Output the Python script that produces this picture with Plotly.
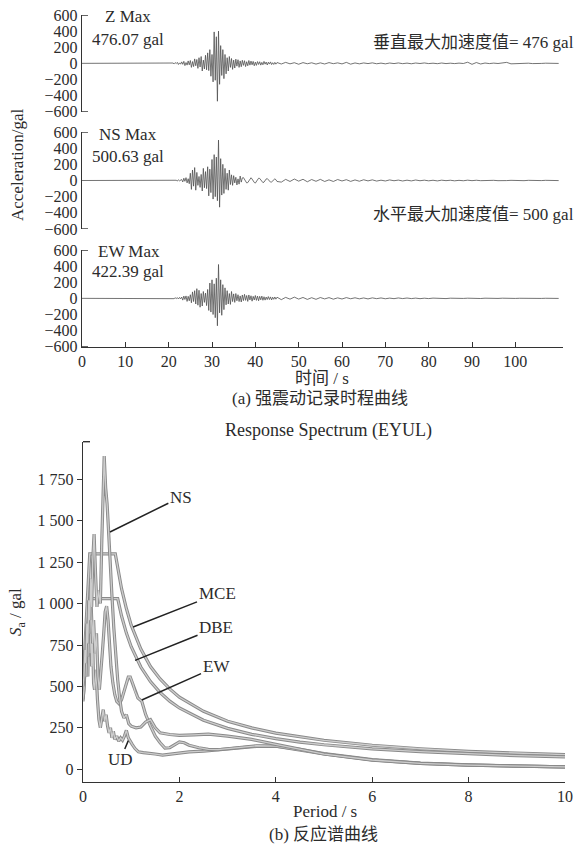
import numpy as np
import plotly.graph_objects as go

W, H = 579, 847

# ---------------- data: acceleration time histories (gal) ----------------
# dense part sampled every 0.25 s from 21 s to 44.75 s, tail every 1 s from 45 s to 110 s
dense_start, dense_step = 21.0, 0.25
tail_start, tail_step = 45.0, 1.0

z_dense = [4, -6, 9, -3, 12, -14, 6, -10,
           18, -12, 25, -28, 10, -22, 30, -18,
           35, -50, 22, -40, 55, -30, 48, -62,
           70, -45, 85, -95, 40, -70, 100, -80,
           130, -90, 170, -160, 110, -230, 390, -210,
           330, -470, 400, -260, 220, -150, 170, -190,
           110, -130, 70, -95, 85, -50, 60, -75,
           40, -58, 52, -35, 45, -50, 30, -42,
           38, -25, 33, -40, 20, -30, 35, -22,
           28, -18, 24, -30, 15, -25, 22, -14,
           20, -22, 12, -18, 24, -10, 16, -20,
           14, -9, 18, -15, 8, -14, 12, -10]
z_tail = [10, -8, 12, -6, 8, -11, 9, -5, 7, -9,
          6, -8, 9, -4, 6, -7, 12, -10, 5, -6,
          5, -3, 6, -5, 3, -6, 4, -3, 5, -4,
          3, -5, 4, -2, 5, -3, 2, -4, 4, -3,
          2, -3, 3, -2, 14, -12, 10, -8, 4, -3,
          3, -2, 4, 12, -6, -2, 3, -2, 2, -3,
          2, -1, 2, -2, 1, -1]

ns_dense = [0, 4, -5, 3, -7, 9, -4, 6,
            12, -18, 28, -10, 35, -30, 22, -40,
            90, -110, 130, -70, 160, -120, 100, -60,
            50, -85, 75, -130, 150, -90, 110, -100,
            170, -190, 140, -150, 260, -230, 320, -200,
            290, -250, 500, -330, 270, -180, 200, -160,
            150, -110, 90, -120, 130, -50, 70, -60,
            60, -30, 40, -55, 20, -45, 55, -20,
            32, 36, 12, -14, -30, -26, -8, 22,
            34, 18, -6, -24, -32, -12, 10, 28,
            26, 8, -14, -26, -20, 4, 18, 24,
            12, -6, -20, -18, -4, 12, 20, 10]
ns_tail = [-12, -20, 14, -12, 18, -8, 15, -16, 12, -10,
           14, -12, 8, -12, 12, -6, 10, -11, 7, -9,
           9, -5, 8, -7, 4, -6, 7, -3, 5, -6,
           4, -5, 6, -3, 4, -4, 3, -5, 4, -2,
           3, -4, 2, -3, 4, -2, 3, -2, 2, -3,
           2, -2, 3, -1, 2, -2, 1, -2, 2, -1,
           1, -1, 2, -1, 1, -1]

ew_dense = [2, -4, 7, -3, 9, -8, 11, -6,
            16, -22, 28, -14, 30, -38, 25, -30,
            45, -55, 80, -40, 95, -70, 120, -85,
            100, -110, 60, -95, 85, -50, 65, -90,
            110, -150, 190, -170, 230, -200, 180, -240,
            250, -340, 420, -180, 230, -210, 170, -140,
            130, -80, 95, -70, 60, -75, 85, -40,
            55, -50, 60, -30, 45, -40, 30, -45,
            42, -28, 50, -25, 35, -38, 42, -20,
            32, -35, 25, -20, 35, -25, 28, -30,
            25, -18, 28, -24, 20, -22, 16, -15,
            22, -15, 18, -20, 14, -12, 17, -10]
ew_tail = [14, -16, 12, -10, 15, -9, 11, -13, 8, -12,
           10, -7, 9, -10, 6, -8, 9, -5, 7, -6,
           5, -7, 6, -4, 5, -5, 3, -4, 5, -3,
           4, -3, 3, -4, 2, -3, 3, -2, 2, -3,
           2, -2, 3, -1, 2, -2, 1, -2, 2, -1,
           1, -1, 2, -1, 1, -1, 1, -1, 1, -1,
           1, -1, 1, -1, 1, -1]

acc_ticks = [-600, -400, -200, 0, 200, 400, 600]
time_ticks = [0, 10, 20, 30, 40, 50, 60, 70, 80, 90, 100]

# ---------------- data: response spectra (gal) ----------------
mce_T = [0, 0.14, 0.67, 0.8, 0.9, 1.0, 1.2, 1.4, 1.6, 1.8, 2.0, 2.5, 3.0, 3.5, 4.0, 4.5, 5.0, 6.0, 7.0, 8.0, 9.0, 10.0]
mce_Sa = [520, 1300, 1300, 1090, 970, 870, 725, 620, 545, 485, 435, 350, 290, 250, 218, 195, 175, 145, 124, 108, 97, 88]

dbe_T = [0, 0.14, 0.72, 0.8, 0.9, 1.0, 1.2, 1.4, 1.6, 1.8, 2.0, 2.5, 3.0, 3.5, 4.0, 4.5, 5.0, 6.0, 7.0, 8.0, 9.0, 10.0]
dbe_Sa = [410, 1030, 1030, 925, 822, 740, 617, 529, 463, 411, 370, 296, 247, 211, 185, 164, 148, 123, 106, 92, 82, 75]

ns_T = [0, 0.02, 0.04, 0.06, 0.08, 0.10, 0.12, 0.14, 0.16, 0.18, 0.20, 0.23, 0.26, 0.29, 0.32, 0.36,
        0.39, 0.42, 0.44, 0.47, 0.50, 0.53, 0.56, 0.60, 0.64, 0.68, 0.72, 0.76, 0.80, 0.85, 0.90, 0.95,
        1.0, 1.1, 1.2, 1.3, 1.4, 1.5, 1.6, 1.8, 2.0, 2.3, 2.6, 3.0, 3.5, 4.0, 4.5, 5.0, 6.0, 7.0, 8.0, 9.0, 10.0]
ns_Sa = [500, 560, 720, 640, 880, 760, 1020, 900, 1150, 980, 1250, 1420, 1180, 980, 1080, 1000,
         1380, 1700, 1890, 1700, 1600, 1440, 1250, 1050, 850, 680, 540, 430, 350, 310, 330, 275,
         260, 250, 255, 285, 300, 250, 220, 210, 205, 208, 212, 200, 180, 150, 120, 92, 56, 36, 25, 18, 14]

ew_T = [0, 0.02, 0.04, 0.06, 0.08, 0.10, 0.12, 0.14, 0.16, 0.18, 0.20, 0.22, 0.25, 0.28, 0.31, 0.34,
        0.37, 0.40, 0.43, 0.46, 0.49, 0.52, 0.55, 0.58, 0.62, 0.66, 0.70, 0.75, 0.80, 0.85, 0.90, 0.94,
        0.98, 1.03, 1.08, 1.14, 1.22, 1.30, 1.40, 1.50, 1.60, 1.70, 1.80, 1.90, 2.0, 2.1, 2.2, 2.4,
        2.6, 2.8, 3.0, 3.3, 3.6, 4.0, 4.5, 5.0, 6.0, 7.0, 8.0, 9.0, 10.0]
ew_Sa = [422, 480, 620, 560, 750, 680, 900, 820, 1050, 880, 760, 900, 700, 820, 560, 480,
         620, 700, 820, 950, 985, 900, 760, 620, 520, 450, 410, 395, 420, 470, 520, 557,
         557, 520, 470, 430, 410, 330, 260, 200, 160, 128, 130, 150, 165, 160, 145, 130,
         120, 118, 125, 135, 142, 140, 118, 92, 55, 36, 25, 18, 14]

ud_T = [0, 0.02, 0.04, 0.06, 0.08, 0.10, 0.12, 0.14, 0.16, 0.18, 0.20, 0.22, 0.24, 0.27, 0.30, 0.33,
        0.36, 0.39, 0.42, 0.45, 0.48, 0.51, 0.54, 0.57, 0.60, 0.63, 0.66, 0.70, 0.74, 0.78, 0.82, 0.86,
        0.90, 0.94, 0.98, 1.02, 1.08, 1.15, 1.25, 1.35, 1.5, 1.65, 1.8, 2.0, 2.2, 2.5, 2.8, 3.2, 3.6,
        4.0, 4.5, 5.0, 6.0, 7.0, 8.0, 9.0, 10.0]
ud_Sa = [476, 540, 700, 600, 820, 560, 950, 700, 1000, 620, 780, 520, 480, 600, 420, 300,
         250, 300, 360, 290, 330, 260, 220, 250, 190, 230, 180, 200, 170, 190, 175, 200,
         235, 190, 165, 150, 125, 105, 100, 95, 92, 85, 90, 98, 105, 110, 118, 128, 138,
         140, 120, 95, 58, 38, 26, 19, 15]

sa_ticks = [0, 250, 500, 750, 1000, 1250, 1500, 1750]
sa_ticktext = ["0", "250", "500", "750", "1 000", "1 250", "1 500", "1 750"]
period_ticks = [0, 2, 4, 6, 8, 10]

# ---------------- helpers ----------------
FONT = "Liberation Serif, 'Times New Roman', Noto Sans CJK SC, serif"
TXT = "#2b2b2b"


def fx(p):
    return p / W


def fy(p):
    return 1 - p / H


def series(dense, tail):
    t = [0.0] + list(dense_start + dense_step * np.arange(len(dense))) + \
        list(tail_start + tail_step * np.arange(len(tail)))
    v = [0] + dense + tail
    return t, v


fig = go.Figure()

comps = [("Z", z_dense, z_tail, "x", "y"),
         ("NS", ns_dense, ns_tail, "x2", "y2"),
         ("EW", ew_dense, ew_tail, "x3", "y3")]
for name, d, tl, xa, ya in comps:
    t, v = series(d, tl)
    fig.add_trace(go.Scatter(x=t, y=v, mode="lines", xaxis=xa, yaxis=ya,
                             line=dict(color="#505050", width=0.8), showlegend=False,
                             hoverinfo="skip"))

spec = [(mce_T, mce_Sa), (dbe_T, dbe_Sa), (ud_T, ud_Sa), (ew_T, ew_Sa), (ns_T, ns_Sa)]
for T, S in spec:
    fig.add_trace(go.Scatter(x=T, y=S, mode="lines", xaxis="x4", yaxis="y4",
                             line=dict(color="#8a8a8a", width=3.2), showlegend=False,
                             hoverinfo="skip"))
    fig.add_trace(go.Scatter(x=T, y=S, mode="lines", xaxis="x4", yaxis="y4",
                             line=dict(color="#cdcdcd", width=1.3), showlegend=False,
                             hoverinfo="skip"))

top_xdom = [fx(82), fx(563)]
spec_xdom = [fx(83), fx(565)]
ydoms = [[fy(111.7), fy(15)], [fy(229), fy(132)], [fy(346.7), fy(250)]]

axis_common = dict(showgrid=False, zeroline=False, linecolor="#333", linewidth=1.4,
                   automargin=False,
                   tickfont=dict(family=FONT, size=16, color=TXT))

layout = dict(width=W, height=H, margin=dict(l=0, r=0, t=0, b=0, pad=0, autoexpand=False),
              paper_bgcolor="white", plot_bgcolor="white", showlegend=False,
              font=dict(family=FONT, color=TXT))

for i, suffix in enumerate(["", "2", "3"]):
    xa = dict(domain=top_xdom, range=[0, 111], anchor="y" + suffix, **axis_common)
    if suffix == "3":
        xa.update(showline=True, ticks="inside", ticklen=5, tickwidth=1.4, tickcolor="#333",
                  tickvals=time_ticks, showticklabels=True)
    else:
        xa.update(showline=False, showticklabels=False, ticks="")
    ya = dict(domain=ydoms[i], range=[-600, 600], anchor="x" + suffix, showline=True,
              ticks="", tickvals=acc_ticks, **axis_common)
    layout["xaxis" + suffix] = xa
    layout["yaxis" + suffix] = ya

layout["xaxis4"] = dict(domain=spec_xdom, range=[0, 10], anchor="y4", showline=True,
                        ticks="inside", ticklen=5, tickwidth=1.4, tickcolor="#333",
                        tickvals=period_ticks, **axis_common)
layout["yaxis4"] = dict(domain=[fy(781.7), fy(441.7)], range=[-75, 1977], anchor="x4",
                        showline=True, ticks="outside", ticklen=5, tickwidth=1.4,
                        tickcolor="#333", tickvals=sa_ticks, ticktext=sa_ticktext,
                        **axis_common)

fig.update_layout(**layout)

# end stubs of the axis lines
shapes = []
for suffix in ["", "2", "3"]:
    for yv in (600, -600):
        shapes.append(dict(type="line", xref="paper", yref="y" + suffix,
                           x0=fx(82), x1=fx(88), y0=yv, y1=yv,
                           line=dict(color="#333", width=1.4)))
shapes.append(dict(type="line", xref="paper", yref="paper", x0=fx(83), x1=fx(90),
                   y0=fy(441.7), y1=fy(441.7), line=dict(color="#333", width=1.4)))
fig.update_layout(shapes=shapes)

ann = []


def text(s, x, y, size=17, xanchor="center", angle=0):
    ann.append(dict(text=s, x=fx(x), y=fy(y), xref="paper", yref="paper",
                    xanchor=xanchor, yanchor="middle", showarrow=False, textangle=angle,
                    font=dict(family=FONT, size=size, color=TXT)))


text("Z Max", 128, 17)
text("476.07 gal", 128, 39)
text("NS Max", 128, 134)
text("500.63 gal", 128, 156)
text("EW Max", 129, 251)
text("422.39 gal", 128, 272)
text("垂直最大加速度值= 476 gal", 576, 42, xanchor="right")
text("水平最大加速度值= 500 gal", 576, 214, xanchor="right")
text("时间 / s", 322, 378)
text("(a) 强震动记录时程曲线", 320, 398)
text("Response Spectrum (EYUL)", 328, 430, size=18)
text("Period / s", 325, 811)
text("(b) 反应谱曲线", 323, 834)
text("Acceleration/gal", 18, 165, angle=-90)
text("<i>S</i><sub>a</sub> / gal", 17, 612, angle=-90)

# pointer labels on the spectrum
pointers = [("NS", 0.56, 1432, 2.03, 1643),
            ("MCE", 1.04, 859, 2.78, 1058),
            ("DBE", 1.08, 657, 2.76, 854),
            ("EW", 1.22, 418, 2.76, 618),
            ("UD", 0.94, 173, 0.77, 56)]
for lab, px_, py_, tx, ty in pointers:
    ann.append(dict(text=lab, x=px_, y=py_, xref="x4", yref="y4", ax=tx, ay=ty,
                    axref="x4", ayref="y4", showarrow=True, arrowhead=0,
                    arrowwidth=1.5, arrowcolor="#222", standoff=0,
                    font=dict(family=FONT, size=17, color=TXT)))

fig.update_layout(annotations=ann)
fig.write_html("out.html", config={"displayModeBar": False},
               post_script="document.body.style.margin='0';")
